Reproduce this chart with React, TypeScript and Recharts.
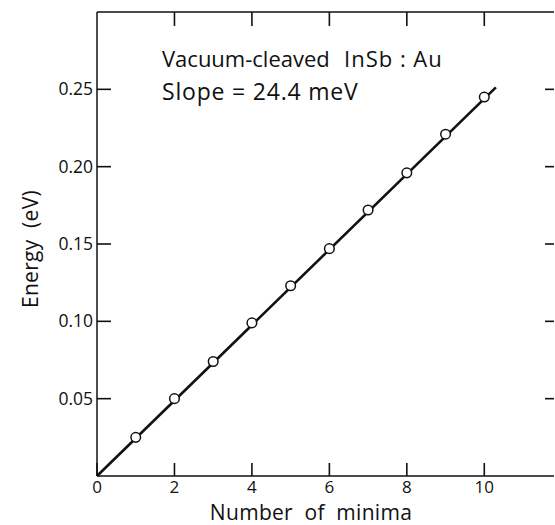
import React from 'react';
import { ScatterChart, Scatter, XAxis, YAxis, Customized } from 'recharts';

const minima = [1, 2, 3, 4, 5, 6, 7, 8, 9, 10];
const energies = [0.025, 0.050, 0.074, 0.099, 0.123, 0.147, 0.172, 0.196, 0.221, 0.245];
const fitX = [0, 10.3];
const fitY = [0, 0.2513];
const xTicks = [0, 2, 4, 6, 8, 10];
const topTicks = [2, 4, 6, 8, 10];
const yTicks = [0.05, 0.1, 0.15, 0.2, 0.25];

const points = minima.map((x, i) => ({ x, y: energies[i] }));
const fit = fitX.map((x, i) => ({ x, y: fitY[i] }));

const FONT = '"Open Sans", "DejaVu Sans", sans-serif';
const INK = '#111111';

const BottomTick = (p: any) => (
  <g>
    <line x1={p.x} y1={p.y} x2={p.x} y2={p.y - 13} stroke={INK} strokeWidth={1.6} />
    <text x={p.x} y={p.y + 17} textAnchor="middle" fontSize={17} fontFamily={FONT} fill={INK}>
      {p.payload.value}
    </text>
  </g>
);
const TopTick = (p: any) => (
  <g>
    <line x1={p.x} y1={p.y} x2={p.x} y2={p.y + 14} stroke={INK} strokeWidth={1.6} />
  </g>
);
const LeftTick = (p: any) => (
  <g>
    <line x1={p.x} y1={p.y} x2={p.x + 14} y2={p.y} stroke={INK} strokeWidth={1.6} />
    <text x={p.x - 4} y={p.y + 6} textAnchor="end" fontSize={17.5} fontFamily={FONT} fill={INK}>
      {Number(p.payload.value).toFixed(2)}
    </text>
  </g>
);
const RightTick = (p: any) => (
  <g>
    <line x1={p.x} y1={p.y} x2={p.x - 9} y2={p.y} stroke={INK} strokeWidth={1.6} />
  </g>
);

const Dot = (p: any) => (
  <circle cx={p.cx} cy={p.cy} r={4.8} fill="#fff" stroke={INK} strokeWidth={1.5} />
);
const NoShape = () => null;

const Texts = () => (
  <g fontFamily={FONT} fill={INK}>
    <text x={162} y={67} fontSize={22}>Vacuum-cleaved</text>
    <text x={344} y={67} fontSize={22} letterSpacing={1} style={{ whiteSpace: 'pre' }}>InSb : Au</text>
    <text x={162} y={100} fontSize={23} letterSpacing={0.8} style={{ whiteSpace: 'pre' }}>Slope = 24.4 meV</text>
    <text x={311} y={520} fontSize={21} letterSpacing={0.3} textAnchor="middle" style={{ whiteSpace: 'pre' }}>Number  of  minima</text>
    <text x={38} y={249} fontSize={21} letterSpacing={0.3} textAnchor="middle" transform="rotate(-90 38 249)" style={{ whiteSpace: 'pre' }}>Energy  (eV)</text>
  </g>
);

export default function App() {
  return (
    <div style={{ position: 'absolute', left: 0, top: 0, width: 555, height: 525, overflow: 'hidden', background: '#fff' }}>
      <ScatterChart width={555} height={525} margin={{ top: 11, right: 0, left: 0, bottom: 0 }}>
        <XAxis xAxisId="b" type="number" dataKey="x" domain={[0, 11.8]} ticks={xTicks} orientation="bottom"
          height={49} tickSize={0} tickMargin={0} tickLine={false} tick={<BottomTick />}
          axisLine={{ stroke: INK, strokeWidth: 1.5 }} />
        <XAxis xAxisId="t" type="number" dataKey="x" domain={[0, 11.8]} ticks={topTicks} orientation="top"
          height={1} tickSize={0} tickMargin={0} tickLine={false} tick={<TopTick />}
          axisLine={{ stroke: INK, strokeWidth: 1.5 }} />
        <YAxis yAxisId="l" type="number" dataKey="y" domain={[0, 0.3]} ticks={yTicks} orientation="left"
          width={97} tickSize={0} tickMargin={0} tickLine={false} tick={<LeftTick />}
          axisLine={{ stroke: INK, strokeWidth: 1.5 }} />
        <YAxis yAxisId="r" type="number" dataKey="y" domain={[0, 0.3]} ticks={yTicks} orientation="right"
          width={1} tickSize={0} tickMargin={0} tickLine={false} tick={<RightTick />}
          axisLine={false} />
        <Scatter xAxisId="t" yAxisId="r" data={points} shape={<NoShape />} isAnimationActive={false} />
        <Scatter xAxisId="b" yAxisId="l" data={fit} line={{ stroke: INK, strokeWidth: 2.6 }} shape={<NoShape />} isAnimationActive={false} />
        <Scatter xAxisId="b" yAxisId="l" data={points} shape={<Dot />} isAnimationActive={false} />
        <Customized component={Texts} />
      </ScatterChart>
    </div>
  );
}
